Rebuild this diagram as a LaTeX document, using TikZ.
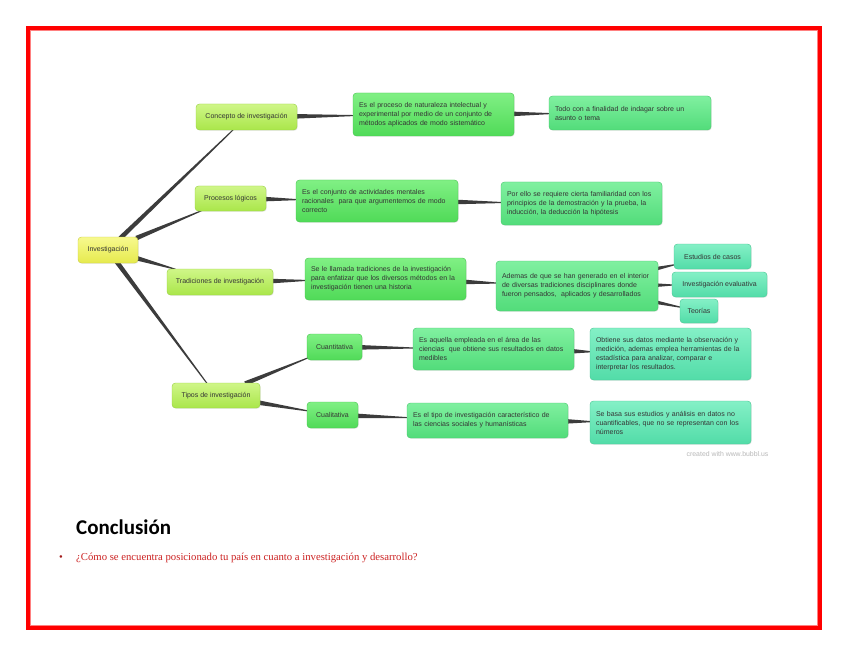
\documentclass[tikz,border=0pt]{standalone}
\usepackage{fontspec}
\newfontfamily\bubfont{Liberation Sans}
\newfontfamily\calfont{Carlito}
\newfontfamily\timesfont{Liberation Serif}
\usetikzlibrary{calc,shadows}
\pgfdeclarelayer{paper}
\pgfdeclarelayer{background}
\pgfsetlayers{paper,background,main}
\definecolor{txt}{HTML}{353535}
\definecolor{linkc}{HTML}{3C3C3C}
\definecolor{yelTop}{HTML}{F7F98E}
\definecolor{yelBot}{HTML}{E6EA4E}
\definecolor{yelLine}{HTML}{CACE3E}
\definecolor{limTop}{HTML}{CFF688}
\definecolor{limBot}{HTML}{AAE64A}
\definecolor{limLine}{HTML}{98D040}
\definecolor{grTop}{HTML}{80F084}
\definecolor{grBot}{HTML}{50DA58}
\definecolor{grLine}{HTML}{46C44E}
\definecolor{mnTop}{HTML}{80F0A0}
\definecolor{mnBot}{HTML}{52DC7A}
\definecolor{mnLine}{HTML}{46C66C}
\definecolor{tlTop}{HTML}{84F0C6}
\definecolor{tlBot}{HTML}{52DCA8}
\definecolor{tlLine}{HTML}{46C692}
\definecolor{frameRed}{HTML}{FF0000}
\definecolor{qRed}{HTML}{CC2222}
\newcommand\tconn[3][2.3]{%
  \path (#2) -- node[pos=0,coordinate](tA){} node[pos=1,coordinate](tB){} (#3);
  \begin{pgfonlayer}{background}
  \coordinate (tA2) at ($(tA)!-2pt!(tB)$);
  \coordinate (tB2) at ($(tB)!-2pt!(tA)$);
  \fill[linkc] ($(tA2)!#1pt!90:(tB2)$) -- ($(tB2)!0.5pt!-90:(tA2)$) -- ($(tB2)!0.5pt!90:(tA2)$) -- ($(tA2)!#1pt!-90:(tB2)$) -- cycle;
  \end{pgfonlayer}}
\tikzset{
  bx/.style={rounded corners=3.5pt, align=left, inner xsep=6pt, inner ysep=2pt,
    font=\bubfont\fontsize{7}{9}\selectfont, text=txt,
    drop shadow={opacity=0.15, shadow xshift=0.8pt, shadow yshift=-0.8pt}},
  lab/.style={bx, align=center, inner xsep=2pt},
  l0/.style={top color=yelTop, bottom color=yelBot, draw=yelLine},
  l1/.style={top color=limTop, bottom color=limBot, draw=limLine},
  l2/.style={top color=grTop, bottom color=grBot, draw=grLine},
  l3/.style={top color=mnTop, bottom color=mnBot, draw=mnLine},
  l4/.style={top color=tlTop, bottom color=tlBot, draw=tlLine},
}
\begin{document}
\begin{tikzpicture}[x=1pt,y=-1pt]
\useasboundingbox (0,0) rectangle (848,655);
\begin{pgfonlayer}{paper}
\fill[white] (0,0) rectangle (848,655);
\end{pgfonlayer}
% frame
\draw[frameRed, line width=4pt] (28,28) rectangle (820,628);
\draw[frameRed!50, line width=1.2pt] (30.6,30.6) rectangle (817.4,625.4);
% level 0 and 1
\node[lab,l0,minimum width=60pt,minimum height=26pt] (inv) at (108,250) {Investigación};
\node[lab,l1,minimum width=101pt,minimum height=26pt] (conc) at (246.5,117) {Concepto de investigación};
\node[lab,l1,minimum width=71pt,minimum height=25pt] (proc) at (230.5,198.5) {Procesos lógicos};
\node[lab,l1,minimum width=106pt,minimum height=26pt] (trad) at (220,282) {Tradiciones de investigación};
\node[lab,l1,minimum width=88pt,minimum height=25pt] (tipos) at (216,395.5) {Tipos de investigación};
% concepto branch
\node[bx,l2,minimum height=43pt,text width=149pt] (proce) at (433.5,114.5) {Es el proceso de naturaleza intelectual y\\experimental por medio de un conjunto de\\métodos aplicados de modo sistemático};
\node[bx,l3,minimum height=34pt,text width=150pt] (todo) at (630,113) {Todo con a finalidad de indagar sobre un\\asunto o tema};
% procesos branch
\node[bx,l2,minimum height=42pt,text width=150pt] (conj) at (377,201) { Es el conjunto de actividades mentales\\racionales\ \ para que argumentemos de modo\\correcto};
\node[bx,l3,minimum height=43pt,text width=149pt] (porello) at (581.5,203.5) {Por ello se requiere cierta familiaridad con los\\principios de la demostración y la prueba, la\\inducción, la deducción la hipótesis};
% tradiciones branch
\node[bx,l2,minimum height=42pt,text width=149pt] (sele) at (385.5,279) {Se le llamada tradiciones de la investigación\\para enfatizar que los diversos métodos en la\\investigación tienen una historia};
\node[bx,l3,minimum height=50pt,text width=150pt] (ademas) at (577,286) {Ademas de que se han generado en el interior\\de diversas tradiciones disciplinares donde\\fueron pensados,\ \ aplicados y desarrollados};
\node[lab,l4,minimum width=77pt,minimum height=25pt] (estud) at (712.5,256.5) {Estudios de casos};
\node[lab,l4,minimum width=95pt,minimum height=25pt] (evalu) at (719.5,284.5) {Investigación evaluativa};
\node[lab,l4,minimum width=38pt,minimum height=24pt] (teor) at (699,311) {Teorías};
% tipos branch
\node[lab,l2,minimum width=55pt,minimum height=26pt] (cuanti) at (334.5,347) {Cuantitativa};
\node[lab,l2,minimum width=51pt,minimum height=26pt] (cuali) at (332.5,415) {Cualitativa};
\node[bx,l3,minimum height=42pt,text width=149pt] (aquella) at (493.5,349) {Es aquella empleada en el área de las\\ciencias\ \ que obtiene sus resultados en datos\\medibles};
\node[bx,l4,minimum height=52pt,text width=149pt] (obtiene) at (670.5,354) {Obtiene sus datos mediante la observación y\\medición, ademas emplea herramientas de la\\estadística para analizar, comparar e\\interpretar los resultados.};
\node[bx,l3,minimum height=35pt,text width=149pt] (tipo) at (487.5,420.5) {Es el tipo de investigación característico de\\las ciencias sociales y humanísticas};
\node[bx,l4,minimum height=43pt,text width=149pt] (basa) at (670.5,422.5) {Se basa sus estudios y análisis en datos no\\cuantificables, que no se representan con los\\números};
% connectors
\tconn{inv}{conc}
\tconn{inv}{proc}
\tconn{inv}{trad}
\tconn{inv}{tipos}
\tconn{conc}{proce}
\tconn{proce}{todo}
\tconn{proc}{conj}
\tconn{conj}{porello}
\tconn{trad}{sele}
\tconn{sele}{ademas}
\tconn[1.8]{ademas}{estud}
\tconn[1.8]{ademas}{evalu}
\tconn[1.8]{ademas}{teor}
\tconn{tipos}{cuanti}
\tconn{tipos}{cuali}
\tconn{cuanti}{aquella}
\tconn{aquella}{obtiene}
\tconn{cuali}{tipo}
\tconn{tipo}{basa}
% credit
\node[font=\bubfont\fontsize{6.9}{8}\selectfont, text=black!28] (credit) at (727.5,454) {created with www.bubbl.us};
% conclusion
\node[anchor=base west, inner sep=0pt, font=\calfont\bfseries\fontsize{21}{25}\selectfont] (concl) at (76,534) {Conclusión};
\node[anchor=base, inner sep=0pt, text=qRed!80!black, font=\timesfont\fontsize{10.7}{12}\selectfont] (bullet) at (61,560) {•};
\node[anchor=base west, inner sep=0pt, text=qRed, font=\timesfont\fontsize{10.7}{12}\selectfont] (quest) at (76,560) {¿Cómo se encuentra posicionado tu país en cuanto a investigación y desarrollo?};
\end{tikzpicture}
\end{document}
